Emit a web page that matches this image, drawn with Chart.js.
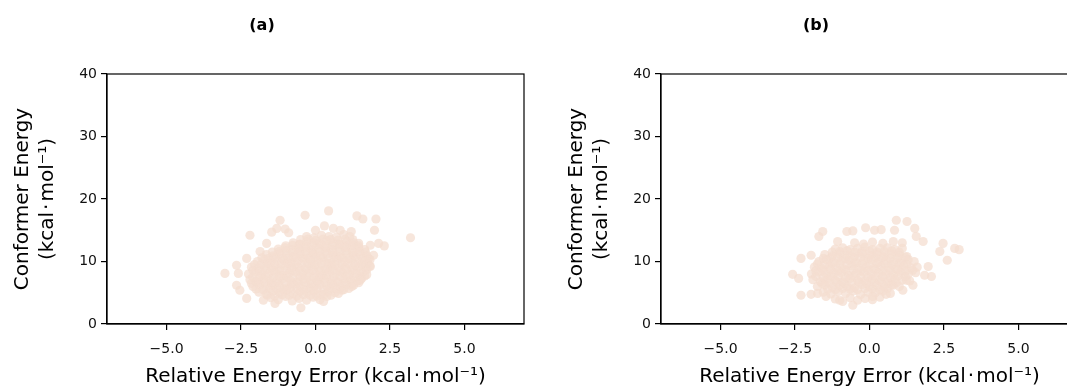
<!DOCTYPE html>
<html>
<head>
<meta charset="utf-8">
<script src="https://cdn.jsdelivr.net/npm/chart.js@4"></script>
<style>
  html, body { margin: 0; padding: 0; background: #fff; overflow: hidden; }
  #wrap { position: relative; width: 1067px; height: 387px; overflow: hidden; }
  canvas { position: absolute; top: 0; }
</style>
</head>
<body>
<div id="wrap">
  <canvas id="chartA" width="540" height="387" style="left:0px"></canvas>
  <canvas id="chartB" width="540" height="387" style="left:554px"></canvas>
</div>
<script>
// panel titles and axis ticks
var panelTitles = ['(a)', '(b)'];
var xTicks = [-5, -2.5, 0, 2.5, 5];
var yTicks = [0, 10, 20, 30, 40];
var xLabel = 'Relative Energy Error (kcal\u200a·\u200amol⁻¹)';
var yLabel = ['Conformer Energy', '(kcal\u200a·\u200amol⁻¹)'];

// panel (a): [error, energy]
var coreA = [
  [-1.5,4.2],[-1.25,3.9],[-1.0,4.4],[-0.78,3.7],[-0.55,4.1],[-0.3,3.8],[-0.08,4.3],[0.15,3.9],[0.38,4.4],
  [-1.9,5.1],[-1.65,4.8],[-1.42,5.3],[-1.2,5.0],[-0.97,5.4],[-0.75,4.9],[-0.52,5.2],[-0.3,5.0],[-0.05,5.3],[0.18,4.8],[0.42,5.2],[0.65,5.0],[0.88,5.4],
  [-2.1,6.0],[-1.88,6.3],[-1.65,5.9],[-1.43,6.2],[-1.2,6.1],[-0.98,5.8],[-0.75,6.3],[-0.53,6.0],[-0.3,6.2],[-0.07,5.9],[0.15,6.3],[0.38,6.0],[0.6,6.2],[0.83,5.9],[1.05,6.3],[1.22,6.0],
  [-2.2,7.1],[-1.98,6.8],[-1.75,7.2],[-1.52,7.0],[-1.3,6.9],[-1.07,7.3],[-0.85,7.0],[-0.62,6.8],[-0.4,7.2],[-0.17,7.0],[0.05,6.9],[0.28,7.3],[0.5,7.0],[0.73,6.8],[0.95,7.2],[1.18,7.0],[1.4,6.9],[1.55,7.3],
  [-2.25,8.0],[-2.02,8.3],[-1.8,7.9],[-1.57,8.1],[-1.35,8.2],[-1.12,7.8],[-0.9,8.1],[-0.67,8.3],[-0.45,7.9],[-0.22,8.2],[0.0,8.0],[0.23,7.8],[0.45,8.3],[0.68,8.0],[0.9,8.2],[1.13,7.9],[1.35,8.1],[1.58,8.3],[1.72,7.9],
  [-2.15,9.1],[-1.92,8.9],[-1.7,9.2],[-1.47,9.0],[-1.25,8.8],[-1.02,9.3],[-0.8,9.0],[-0.57,9.1],[-0.35,8.9],[-0.12,9.2],[0.1,9.0],[0.33,8.8],[0.55,9.3],[0.78,9.0],[1.0,9.1],[1.23,8.9],[1.45,9.2],[1.68,9.0],[1.82,9.3],
  [-1.95,10.0],[-1.72,10.3],[-1.5,9.9],[-1.27,10.1],[-1.05,10.2],[-0.82,9.8],[-0.6,10.1],[-0.37,10.3],[-0.15,9.9],[0.08,10.2],[0.3,10.0],[0.53,9.8],[0.75,10.3],[0.98,10.0],[1.2,10.2],[1.43,9.9],[1.65,10.1],[1.83,10.3],
  [-1.65,11.1],[-1.42,10.9],[-1.2,11.2],[-0.97,11.0],[-0.75,10.8],[-0.52,11.3],[-0.3,11.0],[-0.07,11.1],[0.15,10.9],[0.38,11.2],[0.6,11.0],[0.83,10.8],[1.05,11.3],[1.28,11.0],[1.5,11.1],[1.72,10.9],
  [-1.25,12.0],[-1.02,12.2],[-0.8,11.9],[-0.57,12.1],[-0.35,12.3],[-0.12,11.9],[0.1,12.1],[0.33,12.2],[0.55,11.9],[0.78,12.1],[1.0,12.3],[1.23,12.0],[1.45,12.2],[1.65,11.9],
  [-0.75,13.0],[-0.52,12.8],[-0.3,13.2],[-0.07,13.0],[0.15,12.9],[0.38,13.3],[0.6,13.0],[0.83,12.8],[1.05,13.2],[1.28,13.0],[1.45,12.9],
  [-0.3,14.0],[-0.05,13.8],[0.2,14.2],[0.45,14.0],[0.7,13.9],[0.95,14.3],[1.15,14.0]
];
// extra points sitting between the rows above, where the cloud is densest
var midA = [
  [-1.62,4.6],[-1.37,4.5],[-1.12,4.7],[-0.88,4.6],[-0.63,4.5],[-0.4,4.7],[-0.18,4.6],[0.05,4.5],[0.28,4.7],[0.52,4.6],
  [-2.0,5.6],[-1.76,5.5],[-1.53,5.7],[-1.3,5.6],[-1.08,5.5],[-0.85,5.7],[-0.63,5.6],[-0.4,5.5],[-0.18,5.7],[0.05,5.6],[0.28,5.5],[0.5,5.7],[0.72,5.6],[0.95,5.5],[1.12,5.7],
  [-2.15,6.5],[-1.92,6.6],[-1.7,6.7],[-1.47,6.5],[-1.25,6.6],[-1.02,6.7],[-0.8,6.5],[-0.57,6.6],[-0.35,6.7],[-0.12,6.5],[0.1,6.6],[0.33,6.7],[0.55,6.5],[0.78,6.6],[1.0,6.7],[1.23,6.5],[1.45,6.6],
  [-2.1,7.5],[-1.87,7.6],[-1.65,7.7],[-1.42,7.5],[-1.2,7.6],[-0.97,7.7],[-0.75,7.5],[-0.52,7.6],[-0.3,7.7],[-0.07,7.5],[0.15,7.6],[0.38,7.7],[0.6,7.5],[0.83,7.6],[1.05,7.7],[1.28,7.5],[1.5,7.6],[1.65,7.7],
  [-2.1,8.6],[-1.87,8.5],[-1.65,8.7],[-1.42,8.6],[-1.2,8.5],[-0.97,8.7],[-0.75,8.6],[-0.52,8.5],[-0.3,8.7],[-0.07,8.6],[0.15,8.5],[0.38,8.7],[0.6,8.6],[0.83,8.5],[1.05,8.7],[1.28,8.6],[1.5,8.5],[1.72,8.7],
  [-2.05,9.5],[-1.82,9.6],[-1.6,9.7],[-1.37,9.5],[-1.15,9.6],[-0.92,9.7],[-0.7,9.5],[-0.47,9.6],[-0.25,9.7],[-0.02,9.5],[0.2,9.6],[0.43,9.7],[0.65,9.5],[0.88,9.6],[1.1,9.7],[1.33,9.5],[1.55,9.6],[1.75,9.7],
  [-1.8,10.6],[-1.57,10.5],[-1.35,10.7],[-1.12,10.6],[-0.9,10.5],[-0.67,10.7],[-0.45,10.6],[-0.22,10.5],[0.0,10.7],[0.23,10.6],[0.45,10.5],[0.68,10.7],[0.9,10.6],[1.13,10.5],[1.35,10.7],[1.58,10.6],[1.78,10.5],
  [-1.45,11.5],[-1.22,11.6],[-1.0,11.7],[-0.77,11.5],[-0.55,11.6],[-0.32,11.7],[-0.1,11.5],[0.13,11.6],[0.35,11.7],[0.58,11.5],[0.8,11.6],[1.03,11.7],[1.25,11.5],[1.48,11.6],[1.68,11.5],
  [-1.0,12.5],[-0.77,12.6],[-0.55,12.7],[-0.32,12.5],[-0.1,12.6],[0.13,12.7],[0.35,12.5],[0.58,12.6],[0.8,12.7],[1.03,12.5],[1.25,12.6],[1.45,12.5],
  [-0.5,13.5],[-0.25,13.6],[0.0,13.4],[0.25,13.6],[0.5,13.5],[0.75,13.4],[1.0,13.6],[1.25,13.5]
];
var outliersA = [
  [-3.04,8.1],[-2.2,14.2],[-0.35,17.4],[0.44,18.1],[1.39,17.3],[1.59,16.8],[2.03,16.8],[1.98,15.0],
  [3.19,13.8],[-1.19,16.6],[-1.3,15.3],[-1.47,14.7],[-1.02,15.2],[0.3,15.7],[0.6,15.3],[0.83,15.0],
  [2.12,12.9],[2.31,12.5],[-2.65,9.4],[-2.59,8.1],[-2.65,6.2],[-2.54,5.4],[-2.31,4.1],[-1.75,3.8],
  [-1.36,3.3],[-0.49,2.6],[0.27,3.6],[0.77,4.9],[1.28,6.2],[1.5,7.0],[1.84,9.2],[1.95,11.0],
  [1.84,12.6],[-2.31,10.5],[-1.86,11.6],[-1.64,12.9],[-0.9,14.6],[0.0,15.0],[1.2,14.8],[-2.0,6.8]
];

// panel (b)
var coreB = [
  [-1.15,4.0],[-0.9,3.6],[-0.65,4.2],[-0.4,3.8],[-0.15,4.1],[0.1,3.9],[0.35,4.3],
  [-1.55,5.1],[-1.3,4.8],[-1.05,5.2],[-0.8,4.9],[-0.55,5.3],[-0.3,4.7],[-0.05,5.1],[0.2,5.0],[0.45,5.3],[0.7,4.9],
  [-1.75,6.0],[-1.5,6.3],[-1.25,5.9],[-1.0,6.2],[-0.75,6.0],[-0.5,5.8],[-0.25,6.3],[0.0,6.0],[0.25,6.2],[0.5,5.9],[0.75,6.3],[1.0,6.0],
  [-1.9,7.1],[-1.65,6.8],[-1.4,7.2],[-1.15,7.0],[-0.9,6.8],[-0.65,7.3],[-0.4,7.0],[-0.15,6.9],[0.1,7.2],[0.35,7.0],[0.6,6.8],[0.85,7.2],[1.1,7.0],[1.35,6.9],
  [-1.95,8.0],[-1.7,8.3],[-1.45,7.9],[-1.2,8.1],[-0.95,8.2],[-0.7,7.8],[-0.45,8.1],[-0.2,8.3],[0.05,7.9],[0.3,8.2],[0.55,8.0],[0.8,7.8],[1.05,8.3],[1.3,8.0],[1.55,8.2],
  [-1.85,9.1],[-1.6,8.9],[-1.35,9.2],[-1.1,9.0],[-0.85,8.8],[-0.6,9.3],[-0.35,9.0],[-0.1,9.1],[0.15,8.9],[0.4,9.2],[0.65,9.0],[0.9,8.8],[1.15,9.3],[1.4,9.0],[1.6,9.1],
  [-1.7,10.0],[-1.45,10.3],[-1.2,9.9],[-0.95,10.1],[-0.7,10.2],[-0.45,9.8],[-0.2,10.1],[0.05,10.3],[0.3,9.9],[0.55,10.2],[0.8,10.0],[1.05,9.8],[1.3,10.3],[1.5,10.0],
  [-1.5,11.1],[-1.25,10.9],[-1.0,11.2],[-0.75,11.0],[-0.5,10.8],[-0.25,11.3],[0.0,11.0],[0.25,11.1],[0.5,10.9],[0.75,11.2],[1.0,11.0],[1.25,10.8],
  [-1.15,12.0],[-0.9,12.2],[-0.65,11.9],[-0.4,12.1],[-0.15,12.3],[0.1,11.9],[0.35,12.1],[0.6,12.2],[0.85,11.9],[1.1,12.1],
  [-0.5,13.0],[-0.2,12.8],[0.1,13.1],[0.45,12.9],[0.8,13.2],[1.1,13.0]
];
var midB = [
  [-1.4,5.6],[-1.15,5.5],[-0.9,5.7],[-0.65,5.6],[-0.4,5.5],[-0.15,5.7],[0.1,5.6],[0.35,5.5],[0.6,5.7],
  [-1.6,6.5],[-1.35,6.6],[-1.1,6.7],[-0.85,6.5],[-0.6,6.6],[-0.35,6.7],[-0.1,6.5],[0.15,6.6],[0.4,6.7],[0.65,6.5],[0.9,6.6],
  [-1.8,7.6],[-1.55,7.5],[-1.3,7.7],[-1.05,7.6],[-0.8,7.5],[-0.55,7.7],[-0.3,7.6],[-0.05,7.5],[0.2,7.7],[0.45,7.6],[0.7,7.5],[0.95,7.7],[1.2,7.6],
  [-1.8,8.5],[-1.55,8.6],[-1.3,8.7],[-1.05,8.5],[-0.8,8.6],[-0.55,8.7],[-0.3,8.5],[-0.05,8.6],[0.2,8.7],[0.45,8.5],[0.7,8.6],[0.95,8.7],[1.2,8.5],[1.45,8.6],
  [-1.75,9.6],[-1.5,9.5],[-1.25,9.7],[-1.0,9.6],[-0.75,9.5],[-0.5,9.7],[-0.25,9.6],[0.0,9.5],[0.25,9.7],[0.5,9.6],[0.75,9.5],[1.0,9.7],[1.25,9.6],
  [-1.55,10.5],[-1.3,10.6],[-1.05,10.7],[-0.8,10.5],[-0.55,10.6],[-0.3,10.7],[-0.05,10.5],[0.2,10.6],[0.45,10.7],[0.7,10.5],[0.95,10.6],[1.2,10.7],
  [-1.25,11.5],[-1.0,11.6],[-0.75,11.7],[-0.5,11.5],[-0.25,11.6],[0.0,11.7],[0.25,11.5],[0.5,11.6],[0.75,11.7],[1.0,11.5]
];
var outliersB = [
  [-2.58,7.95],[-2.38,7.3],[-2.3,10.5],[-1.96,11.0],[-2.3,4.6],[-1.96,4.75],[-1.74,4.9],
  [-1.7,14.0],[-1.57,14.8],[-1.07,13.2],[-0.76,14.8],[-0.56,14.9],[-0.13,15.4],[0.17,15.0],[0.39,15.1],
  [0.9,16.6],[1.26,16.4],[0.84,15.0],[1.52,15.3],[1.57,14.0],[1.8,13.2],[2.47,12.9],[2.86,12.1],
  [3.01,11.9],[2.36,11.6],[2.61,10.2],[1.97,9.2],[2.08,7.6],[1.85,7.8],[1.12,5.4],[0.79,6.2],
  [-0.56,3.0],[-1.0,3.8],[-1.46,4.4],[0.11,4.4],[0.56,4.75],[1.24,7.0],[1.46,6.2]
];

Chart.defaults.font.family = 'DejaVu Sans';
Chart.defaults.color = '#111';

// draws the full box round the plot area
var boxPlugin = {
  id: 'box',
  afterDraw: function(chart) {
    var a = chart.chartArea;
    var ctx = chart.ctx;
    ctx.save();
    ctx.strokeStyle = '#000';
    ctx.lineWidth = 1.2;
    ctx.strokeRect(a.left, a.top, a.right - a.left, a.bottom - a.top);
    ctx.restore();
  }
};

function fmtTick(v) {
  return v.toFixed(1).replace('-', '\u2212');
}

function makeChart(id, title, parts) {
  var pts = [].concat.apply([], parts).map(function(p) { return {x: p[0], y: p[1]}; });
  var ctx = document.getElementById(id).getContext('2d');
  return new Chart(ctx, {
    type: 'scatter',
    data: {
      datasets: [{
        data: pts,
        backgroundColor: 'rgba(244, 222, 208, 0.75)',
        borderWidth: 0,
        pointRadius: 4.6
      }]
    },
    options: {
      responsive: false,
      animation: false,
      layout: { padding: { left: 0, right: 16, top: 0, bottom: 0 } },
      plugins: {
        legend: { display: false },
        tooltip: { enabled: false },
        title: {
          display: true,
          text: title,
          color: '#000',
          font: { size: 16, weight: 'bold' },
          padding: { top: 16.4, bottom: 38.4 }
        }
      },
      scales: {
        x: {
          type: 'linear',
          min: -7,
          max: 7,
          afterBuildTicks: function(s) { s.ticks = xTicks.map(function(v) { return {value: v}; }); },
          afterFit: function(s) { s.height = 63; },
          ticks: { font: { size: 14 }, padding: 11, callback: function(v) { return fmtTick(v); } },
          grid: { drawOnChartArea: false, drawTicks: true, tickLength: 6, color: '#000', lineWidth: 1.2 },
          border: { color: '#000', width: 1.2 },
          title: { display: true, text: xLabel, color: '#000', font: { size: 20 }, padding: { top: 0, bottom: -2 } }
        },
        y: {
          min: 0,
          max: 40,
          afterBuildTicks: function(s) { s.ticks = yTicks.map(function(v) { return {value: v}; }); },
          afterFit: function(s) { s.width = 107; },
          ticks: { font: { size: 14 }, padding: 4 },
          grid: { drawOnChartArea: false, drawTicks: true, tickLength: 6, color: '#000', lineWidth: 1.2 },
          border: { color: '#000', width: 1.2 },
          title: { display: true, text: yLabel, color: '#000', font: { size: 20, lineHeight: 1.25 }, padding: { top: 10.5, bottom: 0 } }
        }
      }
    },
    plugins: [boxPlugin]
  });
}

makeChart('chartA', panelTitles[0], [coreA, midA, outliersA]);
makeChart('chartB', panelTitles[1], [coreB, midB, outliersB]);
</script>
</body>
</html>
